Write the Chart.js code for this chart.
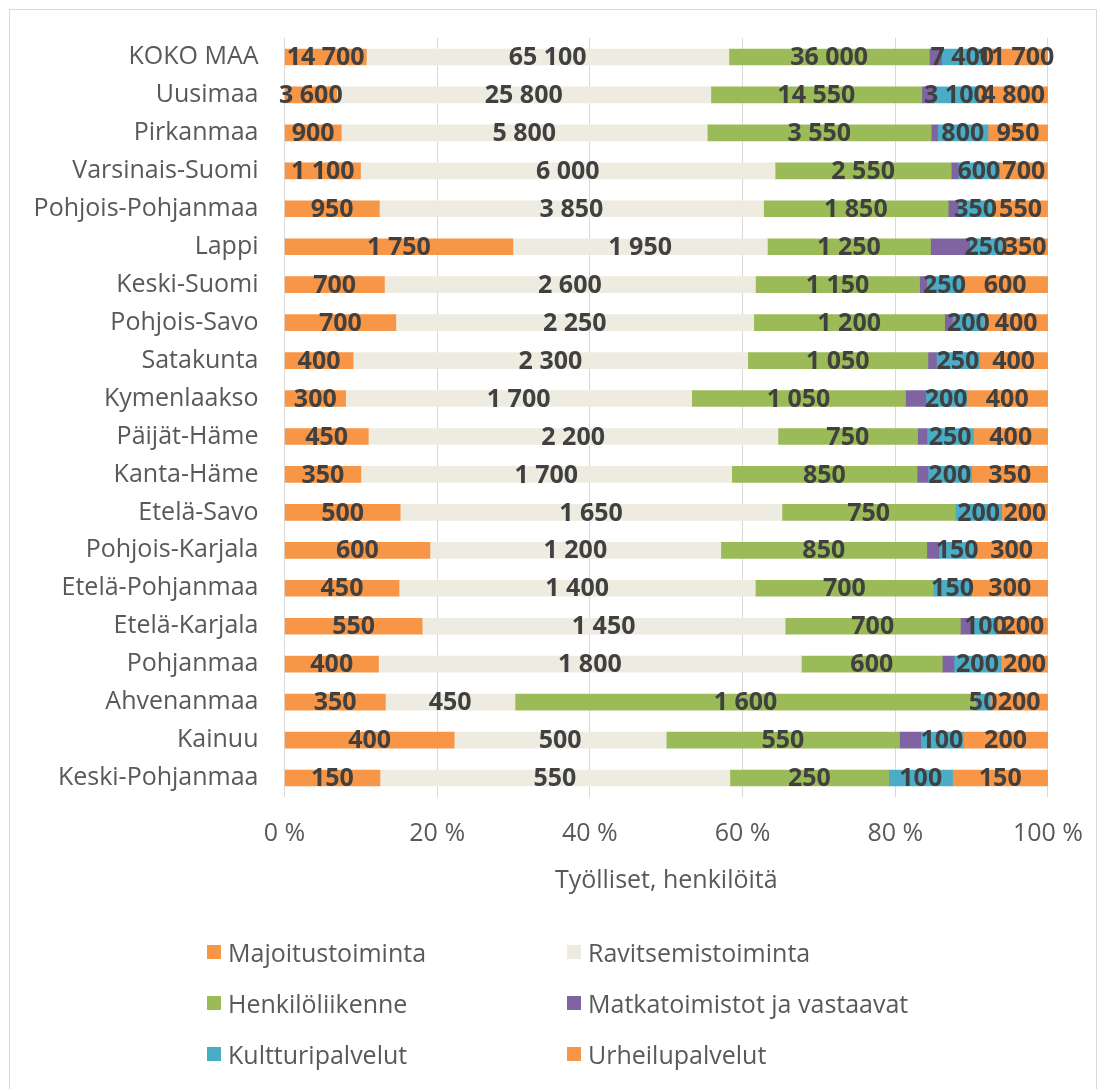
<!DOCTYPE html>
<html>
<head>
<meta charset="utf-8">
<script src="https://cdn.jsdelivr.net/npm/chart.js@4.4.1/dist/chart.umd.min.js"></script>
<style>
  body { margin: 0; background: #fff; }
  #wrap { position: relative; width: 1105px; height: 1089px; font-family: 'Open Sans', sans-serif; }
  #frame { position: absolute; left: 9px; top: 9px; width: 1088px; height: 1080px; border: 1px solid #d9d9d9; border-bottom: none; box-sizing: border-box; }
  canvas { position: absolute; left: 0; top: 0; }
  .leg { position: absolute; display: flex; align-items: center; font-size: 25px; color: #595959; white-space: nowrap; }
  .leg span.box { width: 14px; height: 14px; margin-right: 7px; display: inline-block; }
</style>
</head>
<body>
<div id="wrap">
  <div id="frame"></div>
  <canvas id="chart" width="1105" height="1089"></canvas>
  <div id="legend"></div>
</div>
<script>
// alueet
const regions = ['KOKO MAA', 'Uusimaa', 'Pirkanmaa', 'Varsinais-Suomi', 'Pohjois-Pohjanmaa', 'Lappi', 'Keski-Suomi',
  'Pohjois-Savo', 'Satakunta', 'Kymenlaakso', 'Päijät-Häme', 'Kanta-Häme', 'Etelä-Savo', 'Pohjois-Karjala',
  'Etelä-Pohjanmaa', 'Etelä-Karjala', 'Pohjanmaa', 'Ahvenanmaa', 'Kainuu', 'Keski-Pohjanmaa'];

// työlliset toimialoittain (henkilöä)
const majoitus   = [14700, 3600, 900, 1100, 950, 1750, 700, 700, 400, 300, 450, 350, 500, 600, 450, 550, 400, 350, 400, 150];
const ravitsemis = [65100, 25800, 5800, 6000, 3850, 1950, 2600, 2250, 2300, 1700, 2200, 1700, 1650, 1200, 1400, 1450, 1800, 450, 500, 550];
const henkilo    = [36000, 14550, 3550, 2550, 1850, 1250, 1150, 1200, 1050, 1050, 750, 850, 750, 850, 700, 700, 600, 1600, 550, 250];
const matka      = [2200, 800, 100, 100, 100, 300, 50, 50, 50, 100, 50, 50, 0, 50, 0, 50, 50, 0, 50, 0];
const kulttuuri  = [7400, 3100, 800, 600, 350, 250, 250, 200, 250, 200, 250, 200, 200, 150, 150, 100, 200, 50, 100, 100];
const urheilu    = [11700, 4800, 950, 700, 550, 350, 600, 400, 400, 400, 400, 350, 200, 300, 300, 200, 200, 200, 200, 150];

const xTicks = [0, 20, 40, 60, 80, 100];

const series = [
  { name: 'Majoitustoiminta', values: majoitus, color: '#F79646', label: true },
  { name: 'Ravitsemistoiminta', values: ravitsemis, color: '#EEECE1', label: true },
  { name: 'Henkilöliikenne', values: henkilo, color: '#9BBB59', label: true },
  { name: 'Matkatoimistot ja vastaavat', values: matka, color: '#8064A2', label: false },
  { name: 'Kultturipalvelut', values: kulttuuri, color: '#4BACC6', label: true },
  { name: 'Urheilupalvelut', values: urheilu, color: '#F79646', label: true }
];

// 100 % pinottu -> osuudet riveittäin
const totals = regions.map((r, i) => series.reduce((s, d) => s + d.values[i], 0));

const FONT = "'Open Sans', sans-serif";
const fmt = v => String(v).replace(/\B(?=(\d{3})+(?!\d))/g, ' ');

// arvot palkkien keskelle
const valueLabels = {
  id: 'valueLabels',
  afterDatasetsDraw(chart) {
    const ctx = chart.ctx;
    ctx.save();
    ctx.font = 'bold 25px ' + FONT;
    ctx.fillStyle = '#404040';
    ctx.textAlign = 'center';
    ctx.textBaseline = 'middle';
    chart.data.datasets.forEach((ds, di) => {
      if (!series[di].label) return;
      chart.getDatasetMeta(di).data.forEach((bar, i) => {
        const cx = (bar.x + bar.base) / 2;
        ctx.fillText(fmt(series[di].values[i]), cx, bar.y + 1);
      });
    });
    ctx.restore();
  }
};

const chart = new Chart(document.getElementById('chart'), {
  type: 'bar',
  data: {
    labels: regions,
    datasets: series.map(s => ({
      label: s.name,
      data: s.values.map((v, i) => v / totals[i] * 100),
      backgroundColor: s.color,
      borderWidth: 0,
      barThickness: 16
    }))
  },
  options: {
    indexAxis: 'y',
    responsive: false,
    animation: false,
    devicePixelRatio: 1,
    layout: { padding: { top: 38, right: 57, bottom: 182, left: 0 } },
    plugins: { legend: { display: false }, tooltip: { enabled: false } },
    scales: {
      x: {
        stacked: true,
        min: 0,
        max: 100,
        afterBuildTicks: s => { s.ticks = xTicks.map(v => ({ value: v })); },
        afterFit: s => { s.height = 110; },
        grid: { color: '#d9d9d9', drawTicks: false },
        border: { display: false },
        ticks: {
          padding: 22,
          color: '#595959',
          font: { family: FONT, size: 25 },
          callback: v => v + ' %'
        },
        title: {
          display: true,
          text: 'Työlliset, henkilöitä',
          color: '#595959',
          font: { family: FONT, size: 25 },
          padding: { top: 0, bottom: 11 }
        }
      },
      y: {
        stacked: true,
        afterFit: s => { s.width = 284.5; },
        grid: { display: false },
        border: { display: false },
        ticks: { padding: 18, color: '#595959', font: { family: FONT, size: 25 } }
      }
    }
  },
  plugins: [valueLabels]
});

// selite kahteen sarakkeeseen
const legend = document.getElementById('legend');
chart.data.datasets.forEach((ds, i) => {
  const item = document.createElement('div');
  item.className = 'leg';
  item.style.left = (i % 2 === 0 ? 207 : 567) + 'px';
  item.style.top = (952 + Math.floor(i / 2) * 51 - 18) + 'px';
  item.style.height = '36px';
  item.innerHTML = '<span class="box" style="background:' + ds.backgroundColor + '"></span>' + ds.label;
  legend.appendChild(item);
});
</script>
</body>
</html>
